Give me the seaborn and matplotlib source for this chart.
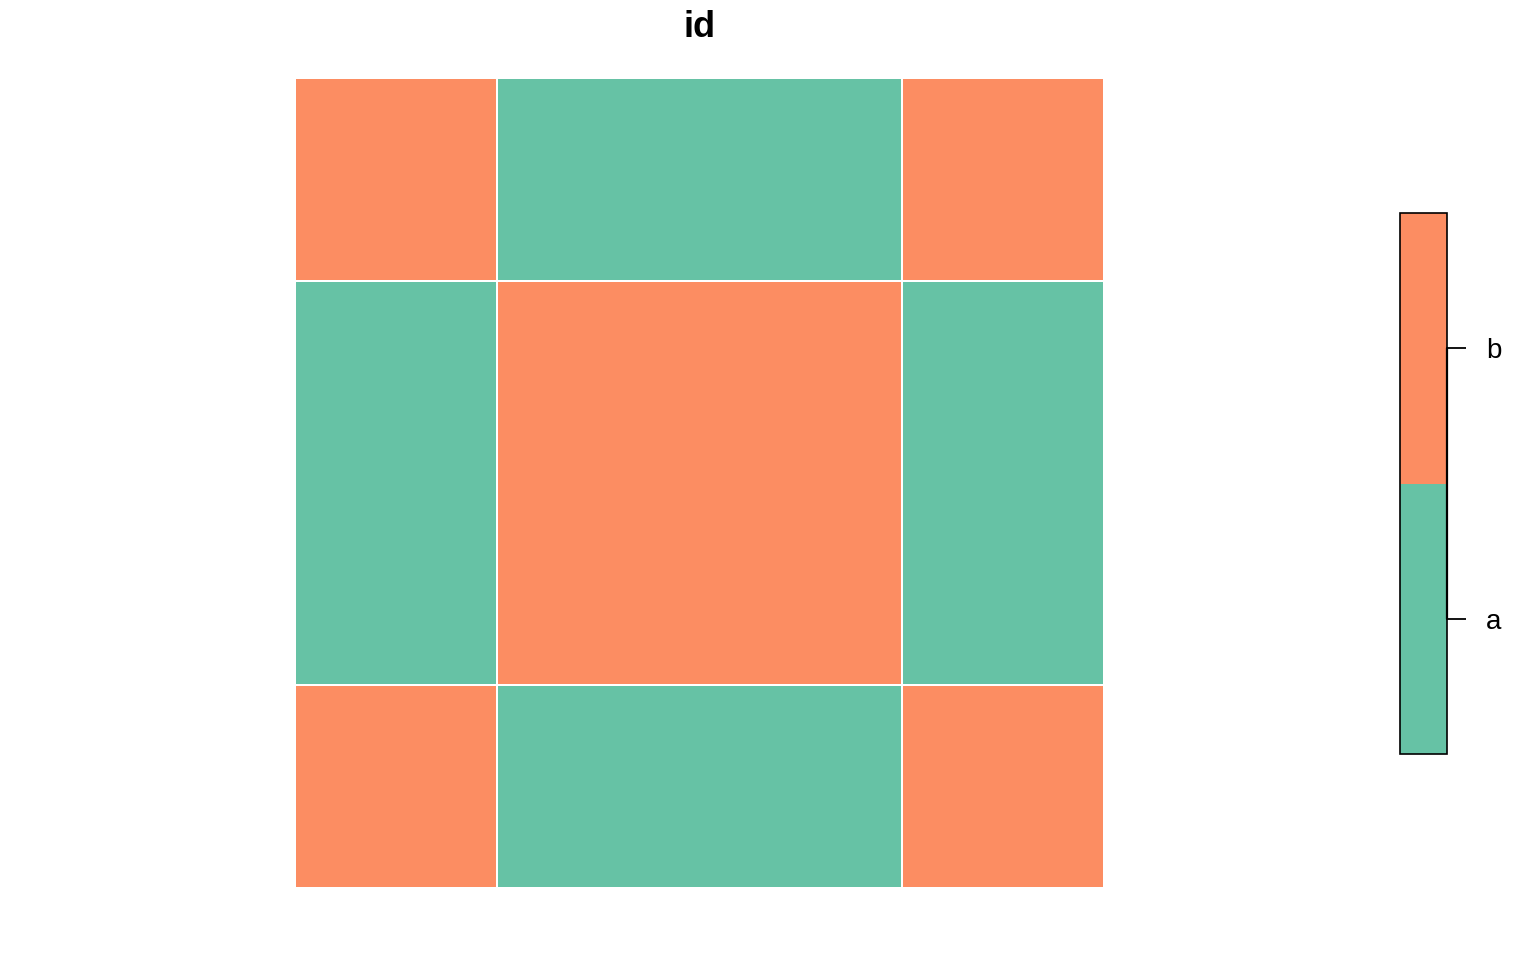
import numpy as np
import seaborn as sns
import matplotlib
matplotlib.use("Agg")
import matplotlib.pyplot as plt
from matplotlib.colors import ListedColormap, BoundaryNorm

# polygon grid: cell edges and category of each cell (rows from bottom)
x_edges = [0, 1, 3, 4]
y_edges = [0, 1, 3, 4]
categories = ["a", "b"]
cell_ids = [
    ["b", "a", "b"],
    ["a", "b", "a"],
    ["b", "a", "b"],
]

sns.set_style("white")
plt.rcParams['font.family'] = ['Liberation Sans', 'DejaVu Sans']
plt.rcParams['text.color'] = 'black'

pal = sns.color_palette("Set2", len(categories))
cmap = ListedColormap(pal)
norm = BoundaryNorm(np.arange(len(categories) + 1) - 0.5, len(categories))

codes = np.array([[categories.index(v) for v in row] for row in cell_ids])

fig = plt.figure(figsize=(15.36, 9.6), dpi=100)
ax = fig.add_axes([0.1921, 0.075, 0.5267, 0.84375])
mesh = ax.pcolormesh(x_edges, y_edges, codes, cmap=cmap, norm=norm,
                     edgecolor="white", linewidth=1.3)
ax.set_xlim(0, 4)
ax.set_ylim(0, 4)
ax.set_aspect("equal")
ax.set_axis_off()
ax.set_title("id", fontsize=26, fontweight="bold", pad=30, color="black")

cax = fig.add_axes([0.9115, 0.2146, 0.0306, 0.5635])
cb = fig.colorbar(mesh, cax=cax, ticks=range(len(categories)))
cb.ax.minorticks_off()
cb.ax.set_yticklabels(categories)
cb.ax.tick_params(which="major", length=14, width=1.3, labelsize=20, pad=14,
                  color="black", labelcolor="black")
# axis line joining the ticks, as in the reference legend
cb.ax.plot([1, 1], [0, 1], color="black", linewidth=1.6,
           transform=cb.ax.get_yaxis_transform(), clip_on=False)
cb.outline.set_linewidth(1.2)
cb.outline.set_edgecolor("black")

fig.savefig("out.png", dpi=100)
